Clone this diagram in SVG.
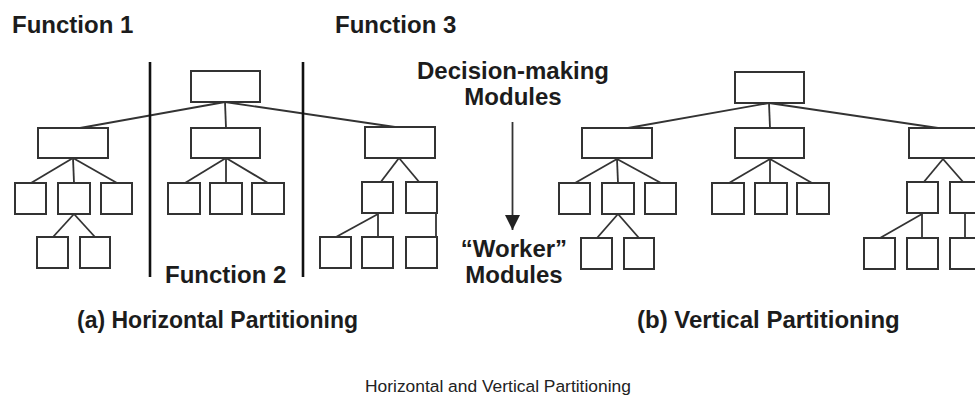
<svg xmlns="http://www.w3.org/2000/svg" width="975" height="412" viewBox="0 0 975 412">
<style>
.b{fill:#fff;stroke:#333;stroke-width:2}
.c line{stroke:#333;stroke-width:1.8}
.sep{stroke:#111;stroke-width:2.6}
.t{font-family:"Liberation Sans",Arial,Helvetica,sans-serif;font-weight:bold;font-size:24px;fill:#1c1c1c}
.m{text-anchor:middle}
.n{font-family:"Liberation Sans",Arial,Helvetica,sans-serif;font-size:17.4px;fill:#222}
</style>
<defs>
<marker id="ah" viewBox="0 0 10 10" refX="10" refY="5" markerWidth="15" markerHeight="15" markerUnits="userSpaceOnUse" orient="auto">
<path d="M0,0 L10,5 L0,10 Z" fill="#222"/>
</marker>
</defs>
<rect width="975" height="412" fill="#fff"/>

<g id="connectors" class="c">
<line x1="225" y1="102" x2="80" y2="128"/>
<line x1="225" y1="102" x2="226" y2="128"/>
<line x1="225" y1="102" x2="395" y2="127"/>
<line x1="73" y1="158" x2="31" y2="183"/>
<line x1="73" y1="158" x2="74" y2="183"/>
<line x1="73" y1="158" x2="117" y2="183"/>
<line x1="74" y1="214" x2="53" y2="237"/>
<line x1="74" y1="214" x2="95" y2="237"/>
<line x1="226" y1="158" x2="185" y2="183"/>
<line x1="226" y1="158" x2="226" y2="183"/>
<line x1="226" y1="158" x2="268" y2="183"/>
<line x1="399" y1="158" x2="380" y2="183"/>
<line x1="399" y1="158" x2="420" y2="183"/>
<line x1="378" y1="214" x2="336" y2="237"/>
<line x1="378" y1="214" x2="378" y2="237"/>
<line x1="436" y1="213" x2="436" y2="237"/>
<line x1="769" y1="103" x2="628" y2="128"/>
<line x1="769" y1="103" x2="770" y2="128"/>
<line x1="769" y1="103" x2="938" y2="128"/>
<line x1="617" y1="159" x2="575" y2="183"/>
<line x1="617" y1="159" x2="618" y2="183"/>
<line x1="617" y1="159" x2="661" y2="183"/>
<line x1="618" y1="214" x2="597" y2="238"/>
<line x1="618" y1="214" x2="639" y2="238"/>
<line x1="770" y1="159" x2="729" y2="183"/>
<line x1="770" y1="159" x2="770" y2="183"/>
<line x1="770" y1="159" x2="812" y2="183"/>
<line x1="943" y1="159" x2="923" y2="183"/>
<line x1="943" y1="159" x2="964" y2="183"/>
<line x1="922" y1="214" x2="880" y2="238"/>
<line x1="922" y1="214" x2="922" y2="238"/>
<line x1="965" y1="214" x2="965" y2="238"/>
<line x1="512.5" y1="122" x2="512.5" y2="230" marker-end="url(#ah)"/>
</g>

<g id="separators">
<line class="sep" x1="150" y1="62" x2="150" y2="277"/>
<line class="sep" x1="303" y1="62" x2="303" y2="277"/>
</g>

<g id="a-top"><rect class="b" x="191" y="71" width="69" height="31"/></g>
<g id="a-f1"><rect class="b" x="38" y="128" width="70" height="30"/></g>
<g id="a-f2"><rect class="b" x="191" y="128" width="69" height="30"/></g>
<g id="a-f3"><rect class="b" x="365" y="127" width="70" height="31"/></g>
<g id="a-f1-1"><rect class="b" x="15" y="183" width="31" height="31"/></g>
<g id="a-f1-2"><rect class="b" x="58" y="183" width="32" height="31"/></g>
<g id="a-f1-3"><rect class="b" x="101" y="183" width="31" height="31"/></g>
<g id="a-f1-2-1"><rect class="b" x="37" y="237" width="31" height="31"/></g>
<g id="a-f1-2-2"><rect class="b" x="80" y="237" width="30" height="31"/></g>
<g id="a-f2-1"><rect class="b" x="168" y="183" width="32" height="31"/></g>
<g id="a-f2-2"><rect class="b" x="210" y="183" width="32" height="31"/></g>
<g id="a-f2-3"><rect class="b" x="252" y="183" width="32" height="31"/></g>
<g id="a-f3-1"><rect class="b" x="362" y="182" width="31" height="31"/></g>
<g id="a-f3-2"><rect class="b" x="406" y="182" width="31" height="31"/></g>
<g id="a-f3-1-1"><rect class="b" x="320" y="237" width="31" height="31"/></g>
<g id="a-f3-1-2"><rect class="b" x="362" y="237" width="31" height="31"/></g>
<g id="a-f3-2-1"><rect class="b" x="406" y="237" width="31" height="31"/></g>

<g id="b-top"><rect class="b" x="735" y="72" width="69" height="31"/></g>
<g id="b-l1"><rect class="b" x="582" y="128" width="70" height="30"/></g>
<g id="b-l2"><rect class="b" x="735" y="128" width="69" height="30"/></g>
<g id="b-l3"><rect class="b" x="909" y="128" width="70" height="30"/></g>
<g id="b-l1-1"><rect class="b" x="559" y="183" width="31" height="31"/></g>
<g id="b-l1-2"><rect class="b" x="602" y="183" width="32" height="31"/></g>
<g id="b-l1-3"><rect class="b" x="645" y="183" width="31" height="31"/></g>
<g id="b-l1-2-1"><rect class="b" x="581" y="238" width="31" height="31"/></g>
<g id="b-l1-2-2"><rect class="b" x="624" y="238" width="30" height="31"/></g>
<g id="b-l2-1"><rect class="b" x="712" y="183" width="32" height="31"/></g>
<g id="b-l2-2"><rect class="b" x="755" y="183" width="32" height="31"/></g>
<g id="b-l2-3"><rect class="b" x="797" y="183" width="32" height="31"/></g>
<g id="b-l3-1"><rect class="b" x="907" y="182" width="31" height="31"/></g>
<g id="b-l3-2"><rect class="b" x="950" y="182" width="31" height="31"/></g>
<g id="b-l3-1-1"><rect class="b" x="864" y="238" width="31" height="31"/></g>
<g id="b-l3-1-2"><rect class="b" x="907" y="238" width="31" height="31"/></g>
<g id="b-l3-2-1"><rect class="b" x="950" y="238" width="31" height="31"/></g>

<g id="labels">
<text class="t" x="12" y="33">Function 1</text>
<text class="t" x="335" y="33">Function 3</text>
<text class="t" x="165" y="283">Function 2</text>
<text class="t m" x="513" y="79">Decision-making</text>
<text class="t m" x="513" y="105">Modules</text>
<text class="t m" x="514" y="257">“Worker”</text>
<text class="t m" x="514" y="283">Modules</text>
<text class="t" x="77" y="328" style="font-size:23px">(a) Horizontal Partitioning</text>
<text class="t" x="637" y="328">(b) Vertical Partitioning</text>
<text class="n" x="365" y="392">Horizontal and Vertical Partitioning</text>
</g>
</svg>
